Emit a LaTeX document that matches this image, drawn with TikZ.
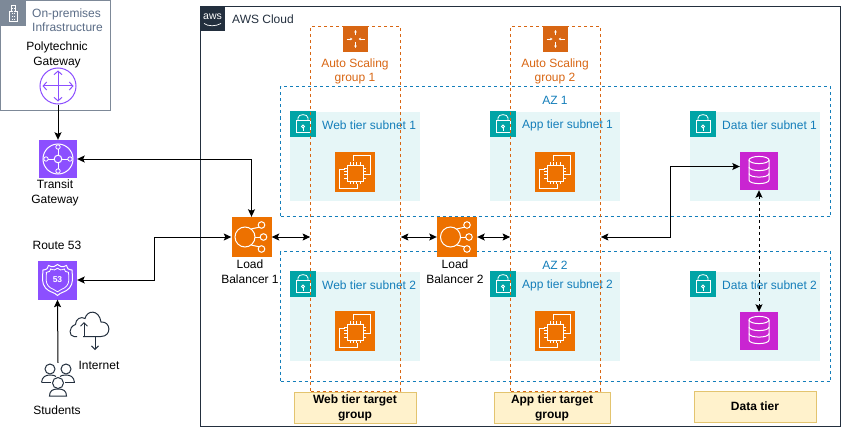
\documentclass[tikz,border=0pt]{standalone}
\usepackage{fontspec}
\setmainfont{Liberation Sans}
\usetikzlibrary{arrows.meta}

\definecolor{awsdark}{HTML}{232F3E}
\definecolor{azblue}{HTML}{147EBA}
\definecolor{asgorange}{HTML}{D86613}
\definecolor{iconorange}{HTML}{ED7100}
\definecolor{iconpurple}{HTML}{8C4FFF}
\definecolor{iconpink}{HTML}{C925D1}
\definecolor{lockteal}{HTML}{00A4A6}
\definecolor{subnetfill}{HTML}{E6F6F7}
\definecolor{premgray}{HTML}{7D8998}
\definecolor{premtext}{HTML}{5A6C86}
\definecolor{tierfill}{HTML}{FFF2CC}
\definecolor{tierline}{HTML}{E3C46F}

\tikzset{
  lbl/.style={inner sep=0pt,align=center,font=\fontsize{12}{15}\selectfont},
  lblleft/.style={lbl,anchor=west,align=left},
  icon/.style={inner sep=0pt,minimum width=#1,minimum height=#1},
  azbox/.style={draw=azblue,line width=.8pt,dash pattern=on 3pt off 3pt,minimum width=550pt,minimum height=130pt},
  asgbox/.style={draw=asgorange,line width=.8pt,dash pattern=on 3pt off 3pt,minimum width=90pt,minimum height=364.5pt},
  subnet/.style={fill=subnetfill,minimum width=130pt,minimum height=89pt},
  tierbox/.style={draw=tierline,fill=tierfill,line width=1pt,minimum width=#1,minimum height=31pt,lbl,font=\fontsize{12}{15}\selectfont\bfseries},
  conn/.style={line width=1pt,black},
  glyph/.style={draw=white,line width=.8pt},
  lockglyph/.pic={
    \draw[glyph] (-7,-3.5) rectangle (7,8.5);
    \draw[glyph] (-5,-3.5) -- (-5,-6) .. controls (-5,-10.5) and (5,-10.5) .. (5,-6) -- (5,-3.5);
    \draw[glyph] (0,2.5) circle[radius=1.5pt];
    \draw[glyph] (0,4) -- (0,6.5);
  },
  ecglyph/.pic={
    \draw[glyph] (-8,-7) rectangle (8,9);
    \foreach \t in {-5,-1.7,1.7,5} {
      \draw[glyph,line width=.6pt] (\t,-10) -- (\t,-7);
      \draw[glyph,line width=.6pt] (\t,9) -- (\t,12);
      \draw[glyph,line width=.6pt] (-11,\t+1) -- (-8,\t+1);
      \draw[glyph,line width=.6pt] (8,\t+1) -- (11,\t+1);
    }
    \draw[glyph] (-2,-11) -- (-2,-16.5) -- (15.5,-16.5) -- (15.5,2) -- (11,2);
    \draw[glyph] (-10,-3) -- (-16,-3) -- (-16,16.5) -- (2,16.5) -- (2,12);
  },
  lbglyph/.pic={
    \draw[glyph,line width=1pt] (-6.5,0) circle[radius=10pt];
    \foreach \a/\b in {10/-12,12/0,10/12} {
      \draw[glyph,line width=1pt] (\a,\b) circle[radius=3.3pt];
    }
    \draw[glyph,line width=1pt] (-.5,-8) -- (7.6,-9.8);
    \draw[glyph,line width=1pt] (3.5,0) -- (8.7,0);
    \draw[glyph,line width=1pt] (-.5,8) -- (7.6,9.8);
  },
  dbglyph/.pic={
    \draw[glyph,line width=1pt] (0,-11) ellipse[x radius=10pt,y radius=3.6pt];
    \draw[glyph,line width=1pt] (-10,-11) -- (-10,9) .. controls (-10,13.8) and (10,13.8) .. (10,9) -- (10,-11);
    \draw[glyph,line width=1pt] (-10,-4) .. controls (-10,.8) and (10,.8) .. (10,-4);
    \draw[glyph,line width=1pt] (-10,2.5) .. controls (-10,7.3) and (10,7.3) .. (10,2.5);
  },
  asgglyph/.pic={
    \draw[glyph,line width=.6pt,-{Stealth[length=2.5pt,width=2.5pt]}] (0,-3.5) -- (0,-9);
    \draw[glyph,line width=.6pt,-{Stealth[length=2.5pt,width=2.5pt]}] (0,3) -- (0,9);
    \draw[glyph,line width=.6pt,-{Stealth[length=2.5pt,width=2.5pt]}] (-9,0) -- (-3,0);
    \draw[glyph,line width=.6pt,-{Stealth[length=2.5pt,width=2.5pt]}] (9,0) -- (3,0);
  },
  tgwglyph/.pic={
    \draw[glyph,line width=1pt] (0,0) circle[radius=15pt];
    \draw[glyph,line width=1pt] (0,0) circle[radius=3.8pt];
    \foreach \a/\b in {0/-12,12/0,0/12,-12/0} {
      \draw[glyph,fill=iconpurple] (\a,\b) circle[radius=2.2pt];
      \draw[glyph] (\a*.32,\b*.32) -- (\a*.82,\b*.82);
    }
  },
  shieldglyph/.pic={
    \draw[glyph,line width=1pt] (-14.5,-10) .. controls (-11,-10) and (-9,-12) .. (-9,-14.5)
      .. controls (-5,-12.5) and (-2,-13) .. (0,-15.5) .. controls (2,-13) and (5,-12.5) .. (9,-14.5)
      .. controls (9,-12) and (11,-10) .. (14.5,-10) .. controls (15,-2) and (16,3) .. (12,8)
      .. controls (8,12.5) and (3,12) .. (0,15.5) .. controls (-3,12) and (-8,12.5) .. (-12,8)
      .. controls (-16,3) and (-15,-2) .. cycle;
    \draw[glyph,scale=.76] (-14.5,-10) .. controls (-11,-10) and (-9,-12) .. (-9,-14.5)
      .. controls (-5,-12.5) and (-2,-13) .. (0,-15.5) .. controls (2,-13) and (5,-12.5) .. (9,-14.5)
      .. controls (9,-12) and (11,-10) .. (14.5,-10) .. controls (15,-2) and (16,3) .. (12,8)
      .. controls (8,12.5) and (3,12) .. (0,15.5) .. controls (-3,12) and (-8,12.5) .. (-12,8)
      .. controls (-16,3) and (-15,-2) .. cycle;
  },
  gwglyph/.pic={
    \draw[iconpurple,line width=1pt,{Straight Barb[length=3.5pt,width=8pt]}-{Straight Barb[length=3.5pt,width=8pt]}] (-15.5,0) -- (15.5,0);
    \draw[iconpurple,line width=1pt,{Straight Barb[length=3.5pt,width=8pt]}-{Straight Barb[length=3.5pt,width=8pt]}] (0,-15.5) -- (0,15.5);
  },
  studentsglyph/.pic={
    \draw[awsdark,line width=1pt] (-8,-10.5) circle[radius=5pt] (8,-10.5) circle[radius=5pt] (0,3.5) circle[radius=5.5pt];
    \draw[awsdark,line width=1pt] (-16.5,3) .. controls (-16,-3) and (-12,-4.5) .. (-8,-4.5) .. controls (-5,-4.5) and (-3,-4) .. (-2,-3);
    \draw[awsdark,line width=1pt] (16.5,3) .. controls (16,-3) and (12,-4.5) .. (8,-4.5) .. controls (5,-4.5) and (3,-4) .. (2,-3);
    \draw[awsdark,line width=1pt] (-16.5,3) -- (-7,3) (16.5,3) -- (7,3);
    \draw[awsdark,line width=1pt] (-8.5,16.5) .. controls (-8.5,11) and (-5,9.5) .. (0,9.5) .. controls (5,9.5) and (8.5,11) .. (8.5,16.5) -- cycle;
  },
  cloudglyph/.pic={
    \draw[awsdark,line width=1pt] (-13,12.5) -- (-16,12.5) .. controls (-21,12.5) and (-22,3) .. (-14.5,.5)
      .. controls (-14.5,-5) and (-9,-8) .. (-5,-5.5) .. controls (-3,-14) and (9,-15) .. (11,-2)
      .. controls (21,-3) and (22,12.5) .. (11,12.5) -- (-7,12.5);
    \draw[awsdark,line width=1pt,-{Straight Barb[length=3.5pt,width=7pt]}] (-6,13) -- (-6,-2);
    \draw[awsdark,line width=1pt,-{Straight Barb[length=3.5pt,width=7pt]}] (5,12) -- (5,26);
  },
}

\begin{document}
\begin{tikzpicture}[x=1pt,y=-1pt,>={Stealth[length=7.5pt,width=7pt,inset=1.5pt]}]
  \useasboundingbox (0,0) rectangle (841,428);
  % containers
  \node[draw=premgray,line width=1pt,minimum width=110pt,minimum height=110pt] (prem) at (55.5,55.5) {};
  \node[fill=premgray,icon=26pt] (premicon) at (13,13) {};
  \draw[white,line width=.7pt] (9,21) -- (9,11) -- (11,11) -- (11,5.5) -- (15,5.5) -- (15,11) -- (17,11) -- (17,21) -- cycle;
  \draw[white,line width=.7pt,dotted] (12,8) -- (12,19) (14,8) -- (14,19);
  \node[lblleft,text=premtext,font=\fontsize{12}{14}\selectfont] (premlbl) at (32,20) {On-premises\\Infrastructure};
  \node[draw=awsdark,line width=1pt,minimum width=640pt,minimum height=420pt] (cloud) at (520.5,216.5) {};
  \node[fill=awsdark,icon=25pt] (awslogo) at (212.5,19) {};
  \node[lbl,text=white,font=\fontsize{10.5}{12}\selectfont] (awstxt) at (212.5,16.5) {aws};
  \draw[white,line width=.7pt] (204,23.5) .. controls (208,26.5) and (216,26.5) .. (221,23.5);
  \node[lblleft,text=awsdark] (awslbl) at (232,19.5) {AWS Cloud};
  % zones and subnets
  \node[azbox] (azA) at (555.5,151.5) {};
  \node[azbox] (azB) at (555.5,316.5) {};
  \node[lbl,text=azblue] (azAlbl) at (555,100) {AZ 1};
  \node[lbl,text=azblue] (azBlbl) at (555,265) {AZ 2};
  \foreach \x/\tier in {355/Web,555/App,755/Data} {
    \foreach \y/\az in {156.5/1,316.5/2} {
      \node[subnet] (sub\tier\az) at (\x,\y) {};
      \node[fill=lockteal,icon=26pt] (lock\tier\az) at (\x-52,\y-32.5) {};
      \pic at (lock\tier\az) {lockglyph};
      \node[lblleft,text=azblue] (txt\tier\az) at (\x-33,\y-31.5) {\tier\ tier subnet \az};
    }
  }
  % instances
  \foreach \n/\x/\y in {webA/355/172,webB/355/331,appA/555/172,appB/555/331} {
    \node[fill=iconorange,icon=40pt] (\n) at (\x,\y) {};
    \pic at (\n) {ecglyph};
  }
  \node[fill=iconpink,icon=38pt] (dbA) at (759,171) {};
  \node[fill=iconpink,icon=38pt] (dbB) at (759,331) {};
  \pic at (dbA) {dbglyph};
  \pic at (dbB) {dbglyph};
  % auto scaling groups
  \node[asgbox] (asgA) at (355.5,208.75) {};
  \node[asgbox] (asgB) at (555.5,208.75) {};
  \node[fill=asgorange,icon=25.5pt] (scaleA) at (355.5,39) {};
  \node[fill=asgorange,icon=25.5pt] (scaleB) at (555.5,39) {};
  \pic at (scaleA) {asgglyph};
  \pic at (scaleB) {asgglyph};
  \node[lbl,text=asgorange,font=\fontsize{12}{14}\selectfont] (scaleAlbl) at (355,71.5) {Auto Scaling\\group 1};
  \node[lbl,text=asgorange,font=\fontsize{12}{14}\selectfont] (scaleBlbl) at (555,71.5) {Auto Scaling\\group 2};
  % load balancers
  \node[fill=iconorange,icon=40pt] (lbA) at (251.5,237) {};
  \node[fill=iconorange,icon=40pt] (lbB) at (457,237) {};
  \pic at (lbA) {lbglyph};
  \pic at (lbB) {lbglyph};
  \node[lbl] (lbAlbl) at (250,271.5) {Load\\Balancer 1};
  \node[lbl] (lbBlbl) at (455,271.5) {Load\\Balancer 2};
  % left column
  \node[draw=iconpurple,line width=1pt,circle,inner sep=0pt,minimum size=36pt] (gateway) at (58,86) {};
  \pic at (gateway) {gwglyph};
  \node[lbl] (gatewaylbl) at (57,55) {Polytechnic\\Gateway};
  \node[fill=iconpurple,icon=38pt] (tgw) at (58,159) {};
  \pic at (tgw) {tgwglyph};
  \node[lbl] (tgwlbl) at (55,193) {Transit\\Gateway};
  \node[fill=iconpurple,icon=39pt,text=white,font=\fontsize{8.5}{10}\selectfont\bfseries] (route) at (57.5,280) {53};
  \pic at (route) {shieldglyph};
  \node[lbl] (routelbl) at (57,245) {Route 53};
  \node[icon=33pt] (students) at (58,379.5) {};
  \pic at (students) {studentsglyph};
  \node[icon=26pt] (internet) at (90,324) {};
  \pic at (internet) {cloudglyph};
  \node[lbl] (studentslbl) at (57,410) {Students};
  \node[lbl] (internetlbl) at (99,365.5) {Internet};
  % tiers
  \node[tierbox=122pt] (tierWeb) at (355,407.5) {Web tier target\\group};
  \node[tierbox=116pt] (tierApp) at (552,407.5) {App tier target\\group};
  \node[tierbox=122pt] (tierData) at (755,406.5) {Data tier};
  % connectors
  \coordinate (bendR) at (154,237);
  \coordinate (bendD) at (670,237);
  \draw[conn,->] (gateway.south) -- (tgw.north);
  \draw[conn,<->] (tgw.east) -| (lbA.north);
  \draw[conn,<->] (route.east) -| (bendR) -- (lbA.west);
  \draw[conn,->] (students.north) -- (route.south);
  \draw[conn,<->] (lbA.east) -- (asgA.west |- lbA.east);
  \draw[conn,<->] (asgA.east |- lbB.west) -- (lbB.west);
  \draw[conn,<->] (lbB.east) -- (asgB.west |- lbB.east);
  \draw[conn,<->] (asgB.east |- bendD) -- (bendD) |- ([yshift=4.5pt]dbA.west);
  \draw[conn,<->,dashed] (dbA.south) -- (dbB.north);
\end{tikzpicture}
\end{document}
